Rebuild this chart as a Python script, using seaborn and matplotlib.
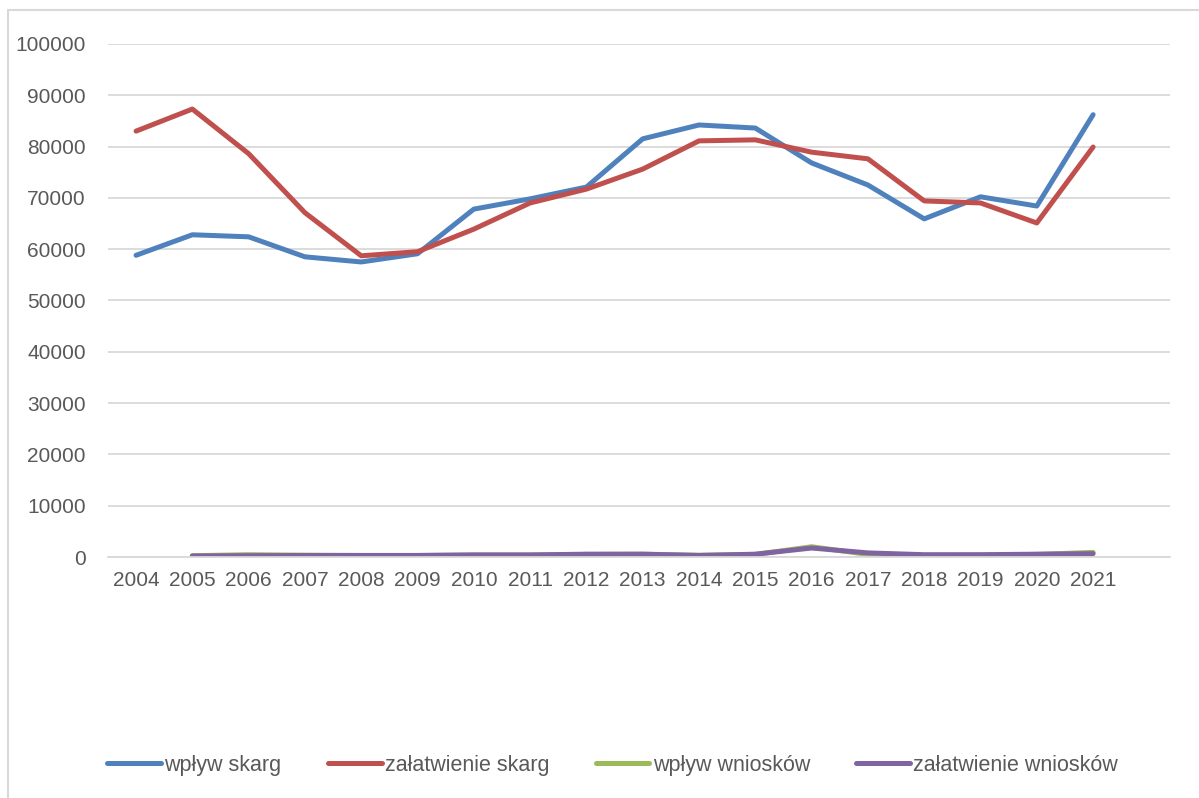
import pandas as pd
import matplotlib
matplotlib.use("Agg")
import matplotlib.pyplot as plt
import seaborn as sns
from matplotlib.patches import Rectangle

years = list(range(2004, 2022))

wplyw_skarg = [58800, 62800, 62400, 58500, 57500, 59100, 67800, 69800, 72100,
               81500, 84200, 83600, 76800, 72500, 65900, 70200, 68400, 86200]
zalatwienie_skarg = [83000, 87300, 78600, 67100, 58700, 59500, 63900, 69000, 71700,
                     75600, 81100, 81300, 78900, 77600, 69400, 69000, 65100, 79900]
# brak danych dla 2004 w seriach wniosków
wplyw_wnioskow = [None, 250, 450, 350, 300, 300, 400, 400, 500,
                  550, 350, 500, 2000, 500, 300, 350, 500, 900]
zalatwienie_wnioskow = [None, 200, 250, 300, 300, 300, 400, 400, 550,
                        550, 300, 550, 1750, 800, 450, 450, 550, 650]

series_names = ["wpływ skarg", "załatwienie skarg", "wpływ wniosków", "załatwienie wniosków"]
colors = ["#4F81BD", "#C0504D", "#9BBB59", "#8064A2"]

df = pd.DataFrame({
    "rok": years * 4,
    "wartosc": wplyw_skarg + zalatwienie_skarg + wplyw_wnioskow + zalatwienie_wnioskow,
    "seria": sum([[n] * len(years) for n in series_names], []),
}).dropna()

sns.set_style("white")
plt.rcParams["font.family"] = ["Liberation Sans", "DejaVu Sans"]

fig = plt.figure(figsize=(11.99, 7.98), dpi=100)
ax = fig.add_axes([0.090, 0.302, 0.886, 0.643])

sns.lineplot(data=df, x="rok", y="wartosc", hue="seria", hue_order=series_names,
             palette=colors, linewidth=3.6, ax=ax, legend=True,
             solid_capstyle="round", solid_joinstyle="round")

ax.set_ylim(0, 100000)
ax.set_xlim(2003.5, 2022.37)
ax.set_yticks(range(0, 100001, 10000))
ax.set_xticks(years)
ax.set_xticklabels([str(y) for y in years])
ax.yaxis.grid(True, color="#D9D9D9", linewidth=1.3)
ax.set_axisbelow(True)
for s in ["top", "right", "left"]:
    ax.spines[s].set_visible(False)
ax.spines["bottom"].set_color("#D9D9D9")
ax.spines["bottom"].set_linewidth(1.3)
ax.tick_params(axis="both", length=0, labelsize=15, colors="#595959")
ax.tick_params(axis="y", pad=16)
ax.tick_params(axis="x", pad=10)
ax.set_xlabel("")
ax.set_ylabel("")

handles, labels = ax.get_legend_handles_labels()
ax.get_legend().remove()
fig.legend(handles, labels, loc="center", bbox_to_anchor=(0.511, 0.041), ncol=4,
           frameon=False, fontsize=15.5, handlelength=2.5, handletextpad=0.15,
           columnspacing=2.15, labelcolor="#595959")

fig.patches.append(Rectangle((8 / 1199, -0.01), 1.2, 1 - 10 / 798 + 0.01,
                             transform=fig.transFigure, fill=False,
                             edgecolor="#D9D9D9", linewidth=1.5))

fig.savefig("out.png", dpi=100)
